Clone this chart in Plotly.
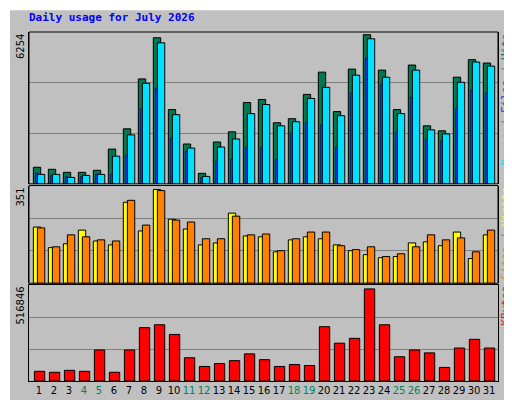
import plotly.graph_objects as go

days = list(range(1, 32))
weekend = [4, 5, 11, 12, 18, 19, 25, 26]

hits = [681, 598, 473, 473, 556, 1431, 2265, 4322, 6018, 3058, 1640, 431, 1723, 2140, 3349, 3474,
        2516, 2682, 3683, 4600, 2974, 4725, 6143, 4684, 3058, 4892, 2390, 2182, 4392, 5114, 4975]
files = [389, 389, 264, 347, 389, 1140, 2015, 4141, 5809, 2849, 1473, 306, 1515, 1848, 2891, 3266,
         2390, 2557, 3516, 3975, 2807, 4475, 5976, 4392, 2891, 4684, 2224, 2057, 4183, 5017, 4850]
pages = [445, 347, 306, 306, 389, 389, 1181, 3099, 3933, 1890, 1348, 264, 931, 1015, 1515, 1515,
         1015, 2099, 2516, 2432, 1515, 3725, 5184, 4100, 2140, 3558, 1848, 1765, 3099, 3850, 3725]
visits = [202, 128, 142, 191, 152, 138, 291, 188, 337, 230, 195, 138, 145, 252, 170, 167,
          113, 156, 167, 160, 138, 117, 103, 92, 96, 145, 149, 135, 184, 89, 174]
sites = [199, 131, 174, 167, 156, 152, 298, 209, 333, 227, 220, 160, 160, 241, 174, 177,
         117, 160, 184, 184, 135, 121, 131, 96, 106, 131, 174, 156, 163, 113, 191]
kbytes = [52206, 46986, 57427, 52206, 167061, 46986, 167061, 287136, 302798, 250592, 125296, 78310,
          93972, 109633, 146178, 114854, 78310, 88751, 83530, 292357, 203606, 229710, 495963,
          302798, 130517, 167061, 151398, 73089, 177502, 224489, 177502]

max_hits = 6254
max_visits = 351
max_kb = 516846

outline = dict(color="black", width=1)
fig = go.Figure()
fig.add_bar(x=days, y=hits, offset=-0.38, width=0.49, marker=dict(color="#007850", line=outline), xaxis="x", yaxis="y3")
fig.add_bar(x=days, y=files, offset=-0.11, width=0.49, marker=dict(color="#00E0FF", line=outline), xaxis="x", yaxis="y3")
fig.add_bar(x=days, y=pages, offset=-0.24, width=0.13, marker=dict(color="#0040FF", line=dict(color="black", width=0.5)), xaxis="x", yaxis="y3")
fig.add_bar(x=days, y=visits, offset=-0.38, width=0.49, marker=dict(color="#FFFF00", line=outline), xaxis="x", yaxis="y2")
fig.add_bar(x=days, y=sites, offset=-0.11, width=0.49, marker=dict(color="#FF8000", line=outline), xaxis="x", yaxis="y2")
fig.add_bar(x=days, y=kbytes, offset=-0.31, width=0.69, marker=dict(color="#FF0000", line=outline), xaxis="x", yaxis="y")

grid = dict(showgrid=True, gridcolor="#808080", gridwidth=1, showticklabels=False, ticks="", zeroline=False,
            showline=True, linecolor="black", mirror=True)
fig.update_layout(
    width=512, height=400, barmode="overlay", showlegend=False,
    paper_bgcolor="#C0C0C0", plot_bgcolor="#C0C0C0",
    margin=dict(l=21, r=22, t=24, b=22),
    font=dict(family="DejaVu Sans Mono", size=11, color="black"),
    xaxis=dict(range=[0.33, 31.6], tickvals=days, tickangle=0,
               ticktext=[f"<span style='color:#008060'>{d}</span>" if d in weekend else str(d) for d in days],
               ticks="", showgrid=False, zeroline=False, showline=True, linecolor="black", mirror=True,
               tickfont=dict(family="DejaVu Sans", size=10)),
    yaxis=dict(domain=[0, 0.275], range=[0, max_kb], tickvals=[max_kb / 3, 2 * max_kb / 3], **grid),
    yaxis2=dict(domain=[0.28, 0.56], range=[0, max_visits], tickvals=[max_visits / 3, 2 * max_visits / 3], **grid),
    yaxis3=dict(domain=[0.565, 1], range=[0, max_hits], tickvals=[max_hits / 3, 2 * max_hits / 3], **grid),
)

# panel frames sharing the x axis
for yref in ["y2", "y3"]:
    fig.add_shape(type="rect", xref="x domain", yref=yref + " domain", x0=0, x1=1, y0=0, y1=1,
                  line=dict(color="black", width=1))

fig.add_annotation(text="<b>Daily usage for July 2026</b>", xref="paper", yref="paper", x=-0.005, y=1.042,
                   xanchor="left", yanchor="middle", showarrow=False,
                   font=dict(family="DejaVu Sans Mono", size=11, color="#0000FF"))

for label, yref in [(str(max_hits), "y3"), (str(max_visits), "y2"), (str(max_kb), "y")]:
    fig.add_annotation(text=label, xref="paper", yref=yref + " domain", x=0, y=1, xanchor="right",
                       yanchor="top", textangle=-90, showarrow=False, xshift=-1,
                       font=dict(family="DejaVu Sans", size=10))

right = [
    ("<span style='color:#00E0FF'>Pages</span> / <span style='color:#0040FF'>Files</span> / "
     "<span style='color:#007850'>Hits</span>", "y3"),
    ("<span style='color:#FF8000'>Sites</span> / <span style='color:#FFFF00'>Visits</span>", "y2"),
    ("<span style='color:#FF0000'>KBytes</span>", "y"),
]
for text, yref in right:
    fig.add_annotation(text=text, xref="paper", yref=yref + " domain", x=1, y=1, xanchor="left",
                       yanchor="top", textangle=-90, showarrow=False, xshift=0, borderpad=0,
                       font=dict(family="DejaVu Sans Mono", size=11, color="#808080"))

# bevel around the whole image
fig.add_shape(type="line", xref="paper", yref="paper", x0=-21 / 469, x1=-21 / 469, y0=-22 / 354, y1=1 + 24 / 354,
              line=dict(color="white", width=4))
fig.add_shape(type="line", xref="paper", yref="paper", x0=-21 / 469, x1=1 + 22 / 469, y0=1 + 24 / 354, y1=1 + 24 / 354,
              line=dict(color="white", width=4))
fig.add_shape(type="line", xref="paper", yref="paper", x0=1 + 22 / 469, x1=1 + 22 / 469, y0=-22 / 354, y1=1 + 24 / 354,
              line=dict(color="#808080", width=4))
fig.add_shape(type="line", xref="paper", yref="paper", x0=-21 / 469, x1=1 + 22 / 469, y0=-22 / 354, y1=-22 / 354,
              line=dict(color="#808080", width=4))

fig.write_html("out.html")
